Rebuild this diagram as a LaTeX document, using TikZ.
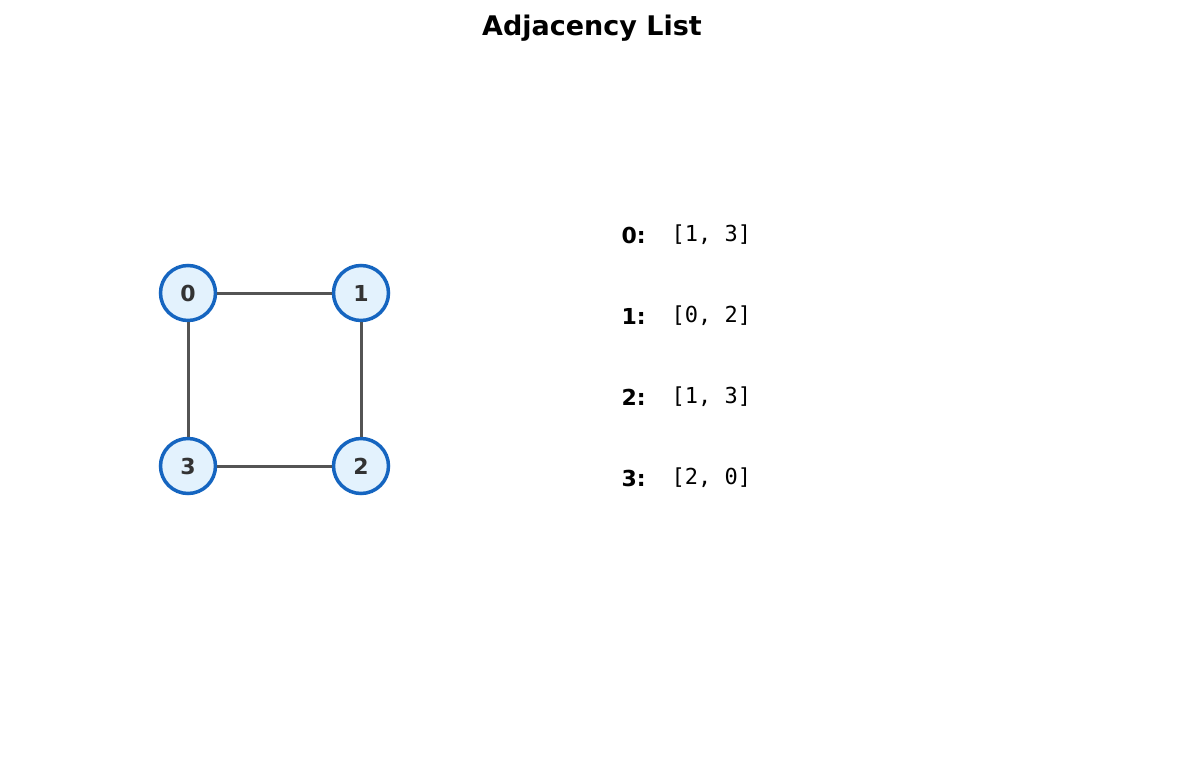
\documentclass[tikz,border=0pt]{standalone}
\usepackage{fontspec}
\setmainfont{DejaVu Sans}
\newfontfamily\monof{DejaVu Sans Mono}
\begin{document}
\begin{tikzpicture}[x=1pt,y=-1pt,
  vert/.style={circle,draw=blue1,fill=blue0,line width=3.5pt,minimum size=55pt,inner sep=0pt,font=\fontsize{22}{24}\selectfont\bfseries,text=black!80},
  edge/.style={draw=black!67,line width=3pt},
  lab/.style={anchor=west,font=\fontsize{22}{24}\selectfont\bfseries},
  lst/.style={anchor=west,font=\fontsize{22}{24}\selectfont\monof}]
\definecolor{blue1}{HTML}{1565C0}
\definecolor{blue0}{HTML}{E3F2FD}
\useasboundingbox (0,0) rectangle (1185,770);
\node[font=\fontsize{27}{30}\selectfont\bfseries] (title) at (592,28) {Adjacency List};
\node[vert] (v0) at (188,293) {0};
\node[vert] (v1) at (361,293) {1};
\node[vert] (v2) at (361,466) {2};
\node[vert] (v3) at (188,466) {3};
\draw[edge] (v0) -- (v1);
\draw[edge] (v1) -- (v2);
\draw[edge] (v2) -- (v3);
\draw[edge] (v3) -- (v0);
\foreach \i/\t/\y in {0/{[1, 3]}/235,1/{[0, 2]}/316,2/{[1, 3]}/397,3/{[2, 0]}/478}{
  \node[lab] (l\i) at (618,\y) {\i:};
  \node[lst] (t\i) at (668,\y) {\t};
}
\end{tikzpicture}
\end{document}
